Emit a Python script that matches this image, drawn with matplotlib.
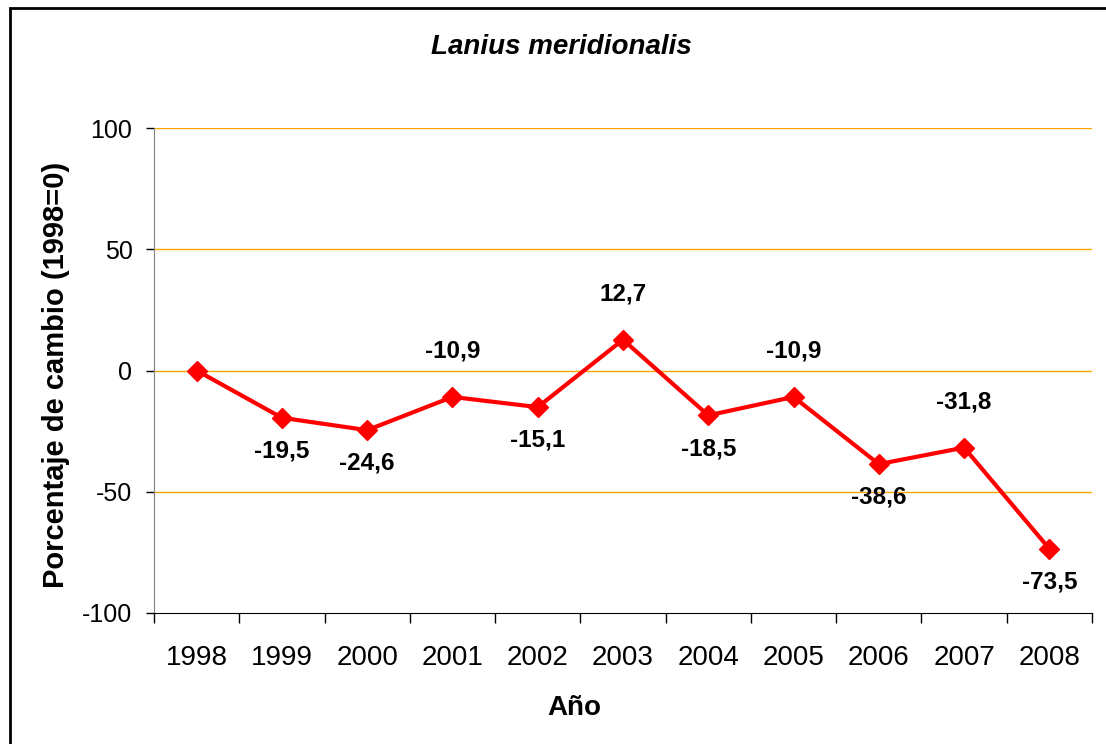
import matplotlib
matplotlib.use("Agg")
import matplotlib.pyplot as plt
from matplotlib.patches import Rectangle

plt.rcParams['font.family'] = ['Liberation Sans', 'DejaVu Sans']

years = ['1998', '1999', '2000', '2001', '2002', '2003', '2004', '2005', '2006', '2007', '2008']
values = [0, -19.5, -24.6, -10.9, -15.1, 12.7, -18.5, -10.9, -38.6, -31.8, -73.5]
label_pos = [None, 'below', 'below', 'above', 'below', 'above', 'below', 'above', 'below', 'above', 'below']
yticks = [-100, -50, 0, 50, 100]

W, H = 1106, 744
fig = plt.figure(figsize=(W / 100, H / 100), dpi=100)
ax = fig.add_axes([154 / W, 1 - 613 / H, (1092 - 154) / W, (613 - 128) / H])

x = list(range(len(years)))
ax.plot(x, values, color='#FF0000', lw=3, marker='D', markersize=10.5, zorder=3, clip_on=False)

for xi, v, pos in zip(x, values, label_pos):
    if pos is None:
        continue
    txt = f"{v:.1f}".replace('.', ',')
    dy = 33 if pos == 'above' else -24
    ax.annotate(txt, (xi, v), xytext=(0, dy), textcoords='offset points',
                ha='center', va='center', fontsize=17.5, fontweight='bold')

ax.set_xlim(-0.5, len(years) - 0.5)
ax.set_ylim(-100, 100)
ax.set_yticks(yticks)
ax.set_yticklabels([str(t) for t in yticks])
ax.set_xticks(x)
ax.set_xticklabels(years)
ax.set_xticks([i - 0.5 for i in range(len(years) + 1)], minor=True)
ax.tick_params(axis='x', which='major', length=0, pad=23, labelsize=20)
ax.tick_params(axis='x', which='minor', length=7, width=1, color='black')
ax.tick_params(axis='y', length=6, width=1, labelsize=18, pad=9.5)

for yv in [-50, 0, 50, 100]:
    ax.axhline(yv, color='#FFA500', lw=1, zorder=1)

for s in ['top', 'right']:
    ax.spines[s].set_visible(False)
ax.spines['left'].set_color('#808080')
ax.spines['bottom'].set_color('black')

fig.text(561 / W, 1 - 47 / H, 'Lanius meridionalis', ha='center', va='center',
         fontsize=20, fontweight='bold', style='italic')
fig.text(574 / W, 1 - 708 / H, 'Año', ha='center', va='center', fontsize=20, fontweight='bold')
fig.text(56 / W, 1 - 375 / H, 'Porcentaje de cambio (1998=0)', ha='center', va='center',
         rotation=90, fontsize=21, fontweight='bold')

fig.add_artist(Rectangle((10 / W, -0.1), 1.2, 1 - 8 / H + 0.1, transform=fig.transFigure,
                         fill=False, edgecolor='black', lw=2))

fig.savefig('out.png', dpi=100)
